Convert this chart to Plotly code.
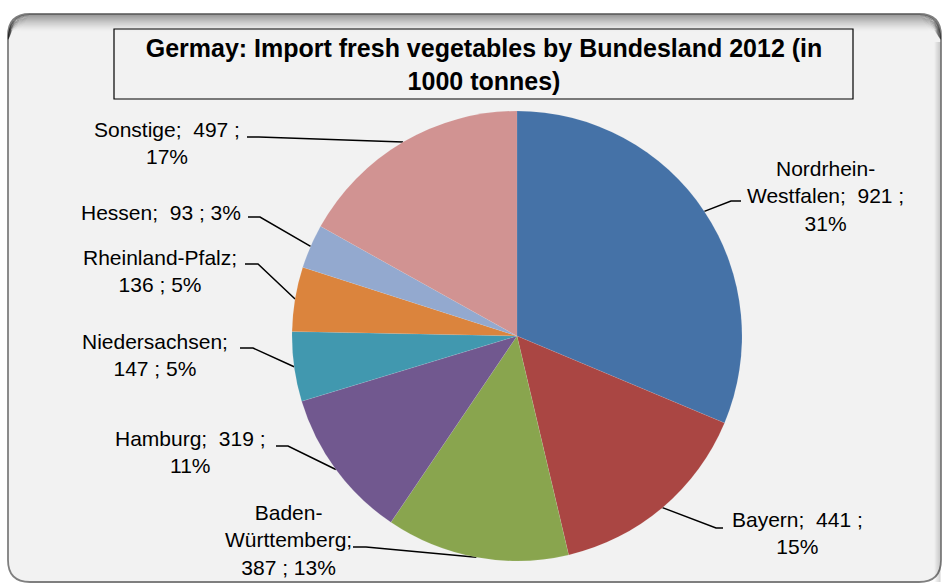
import math
import plotly.graph_objects as go

# ---- data ----
states = ["Nordrhein-Westfalen", "Bayern", "Baden-Württemberg", "Hamburg",
          "Niedersachsen", "Rheinland-Pfalz", "Hessen", "Sonstige"]
values = [921, 441, 387, 319, 147, 136, 93, 497]
percents = ["31%", "15%", "13%", "11%", "5%", "5%", "3%", "17%"]
label_texts = [
    "Nordrhein-<br>Westfalen;  921 ;<br>31%",
    "Bayern;  441 ;<br>15%",
    "Baden-<br>Württemberg;<br>387 ; 13%",
    "Hamburg;  319 ;<br>11%",
    "Niedersachsen;<br>147 ; 5%",
    "Rheinland-Pfalz;<br>136 ; 5%",
    "Hessen;  93 ; 3%",
    "Sonstige;  497 ;<br>17%",
]
colors = ["#4572A7", "#AA4643", "#89A54E", "#71588F",
          "#4198AF", "#DB843D", "#93A9CF", "#D19392"]
title_text = "<b>Germay: Import fresh vegetables by Bundesland 2012 (in<br>1000 tonnes)</b>"

# ---- layout (pixel geometry) ----
W, H = 945, 584
CX, CY, R = 517, 336, 225
# label centre positions and elbow segments (label side -> elbow)
label_pos = [(825, 196), (797, 533), (288, 540), (190, 452),
             (155, 355), (160, 271), (161, 212), (167, 143)]
elbow = [((741, 201), (731, 201)), ((723, 528), (716, 528)),
         ((353, 547), (366, 547)), ((276, 446), (288, 446)),
         ((240, 348), (253, 348)), ((245, 264), (258, 264)),
         ((248, 217), (260, 217)), ((247, 137), (259, 137))]

fig = go.Figure()

fig.add_trace(go.Pie(
    labels=states, values=values, sort=False, direction="clockwise", rotation=0,
    marker=dict(colors=colors, line=dict(color="rgba(242,242,242,0.3)", width=0.3)),
    textinfo="none", hoverinfo="label+value+percent", showlegend=False,
    domain=dict(x=[(CX - R) / W, (CX + R) / W], y=[1 - (CY + R) / H, 1 - (CY - R) / H]),
))

# leader lines from slice mid-angles
total = sum(values)
cum = 0
for i, v in enumerate(values):
    theta = 2 * math.pi * (cum + v / 2) / total
    cum += v
    ex, ey = CX + R * math.sin(theta), CY - R * math.cos(theta)
    (ax_, ay_), (bx, by) = elbow[i]
    fig.add_trace(go.Scatter(x=[ax_, bx, ex], y=[ay_, by, ey], mode="lines",
                             line=dict(color="black", width=1.5),
                             hoverinfo="skip", showlegend=False))

annotations = []
for (lx, ly), t in zip(label_pos, label_texts):
    annotations.append(dict(x=lx, y=ly, xref="x", yref="y", text=t, showarrow=False,
                            xanchor="center", yanchor="middle", align="center",
                            font=dict(family="Liberation Sans, Arial", size=21, color="black")))

# background rounded rectangle with soft shadow
x0, x1, y0, y1, r = 8, 941, 14, 582, 22


def rr_path(a0, a1, b0, b1, rad):
    return (f"M {a0 + rad},{b0} L {a1 - rad},{b0} Q {a1},{b0} {a1},{b0 + rad} "
            f"L {a1},{b1 - rad} Q {a1},{b1} {a1 - rad},{b1} L {a0 + rad},{b1} "
            f"Q {a0},{b1} {a0},{b1 - rad} L {a0},{b0 + rad} Q {a0},{b0} {a0 + rad},{b0} Z")


shapes = [dict(type="path", path=rr_path(x0, x1, y0, y1, r), xref="x", yref="y",
               fillcolor="#F2F2F2", line=dict(color="#7F7F7F", width=1.8), layer="below")]
# inner top shadow
for i in range(1, 18):
    a = 0.45 * (1 - i / 18) ** 1.5
    rad = max(r - i * 0.6, 4)
    p = (f"M {x0 + i * 0.25},{y0 + rad + 4} Q {x0 + i * 0.25},{y0 + i} {x0 + rad},{y0 + i} "
         f"L {x1 - rad},{y0 + i} Q {x1 - i * 0.4},{y0 + i} {x1 - i * 0.4},{y0 + rad + 4}")
    shapes.append(dict(type="path", path=p, xref="x", yref="y",
                       line=dict(color=f"rgba(0,0,0,{a:.3f})", width=1), layer="below"))
# right side shadow
for i in range(1, 7):
    a = 0.2 * (1 - i / 7)
    shapes.append(dict(type="line", x0=x1 - i, x1=x1 - i, y0=y0 + r + 6, y1=y1,
                       xref="x", yref="y",
                       line=dict(color=f"rgba(0,0,0,{a:.3f})", width=1), layer="below"))
# title box
shapes.append(dict(type="rect", x0=114, x1=853, y0=29, y1=99, xref="x", yref="y",
                   fillcolor="rgba(0,0,0,0)", line=dict(color="black", width=1.2), layer="below"))

fig.update_layout(
    width=W, height=H, margin=dict(l=0, r=0, t=0, b=0),
    paper_bgcolor="white", plot_bgcolor="white",
    xaxis=dict(range=[0, W], visible=False, fixedrange=True),
    yaxis=dict(range=[H, 0], visible=False, fixedrange=True),
    shapes=shapes, annotations=annotations,
    title=dict(text=title_text, x=484 / W, y=1 - 57 / H, xanchor="center", yanchor="middle",
               font=dict(family="Liberation Sans, Arial", size=25, color="black")),
)

fig.write_html("out.html", config={"displayModeBar": False},
               post_script="document.body.style.margin='0';")
